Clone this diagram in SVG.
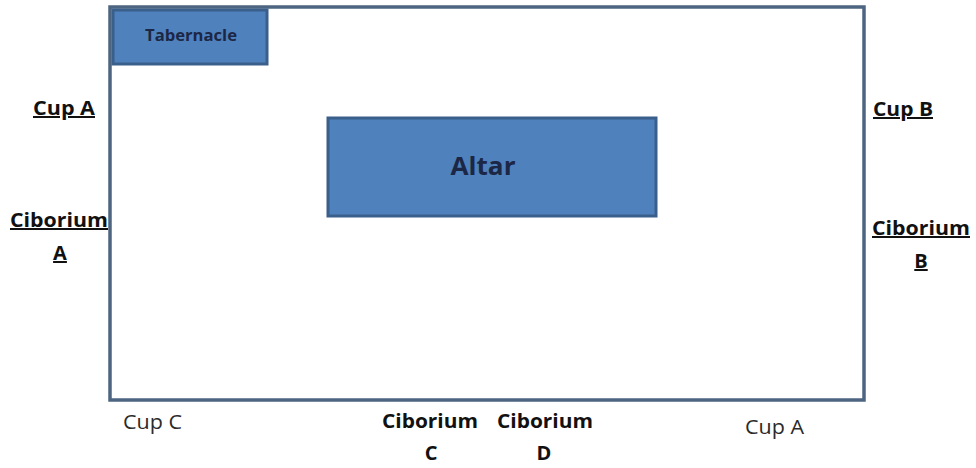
<svg xmlns="http://www.w3.org/2000/svg" width="976" height="468" viewBox="0 0 976 468">
<style>
.box{fill:#4f81bd;stroke:#3a5f8b;stroke-width:3}
.frame{fill:#ffffff;stroke:#4d6580;stroke-width:3.5}
.in{font-family:"Open Sans","Liberation Sans",sans-serif;font-weight:bold;fill:#1c2745}
.lb{font-family:"Open Sans","Liberation Sans",sans-serif;font-weight:bold;font-size:20px;fill:#111111}
.u{text-decoration:underline}
.pl{font-family:"Open Sans","Liberation Sans",sans-serif;font-size:20px;fill:#2b2b2b}
</style>
<rect width="976" height="468" fill="#ffffff"/>
<g id="sanctuary">
<rect class="frame" x="110" y="7" width="754" height="393"/>
</g>
<g id="connectors"></g>
<g id="tabernacle">
<rect class="box" x="113" y="10" width="154" height="54"/>
<text class="in" x="191" y="41" font-size="16" text-anchor="middle" textLength="92" lengthAdjust="spacingAndGlyphs">Tabernacle</text>
</g>
<g id="altar">
<rect class="box" x="328" y="118" width="328" height="98"/>
<text class="in" x="483" y="175" font-size="25" text-anchor="middle" textLength="65" lengthAdjust="spacingAndGlyphs">Altar</text>
</g>
<g id="cup-a-left">
<text class="lb u" x="33" y="115" textLength="62" lengthAdjust="spacingAndGlyphs">Cup A</text>
</g>
<g id="ciborium-a">
<text class="lb u" x="10" y="227" textLength="98" lengthAdjust="spacingAndGlyphs">Ciborium</text>
<text class="lb u" x="60" y="260" text-anchor="middle">A</text>
</g>
<g id="cup-b">
<text class="lb u" x="873" y="116" textLength="60" lengthAdjust="spacingAndGlyphs">Cup B</text>
</g>
<g id="ciborium-b">
<text class="lb u" x="872" y="235" textLength="98" lengthAdjust="spacingAndGlyphs">Ciborium</text>
<text class="lb u" x="921" y="268" text-anchor="middle">B</text>
</g>
<g id="cup-c">
<text class="pl" x="123" y="429" textLength="59" lengthAdjust="spacingAndGlyphs">Cup C</text>
</g>
<g id="ciborium-c">
<text class="lb" x="382" y="428" textLength="96" lengthAdjust="spacingAndGlyphs">Ciborium</text>
<text class="lb" x="431" y="460" text-anchor="middle">C</text>
</g>
<g id="ciborium-d">
<text class="lb" x="497" y="428" textLength="96" lengthAdjust="spacingAndGlyphs">Ciborium</text>
<text class="lb" x="544" y="460" text-anchor="middle">D</text>
</g>
<g id="cup-a-right">
<text class="pl" x="745" y="434" textLength="59" lengthAdjust="spacingAndGlyphs">Cup A</text>
</g>
</svg>
